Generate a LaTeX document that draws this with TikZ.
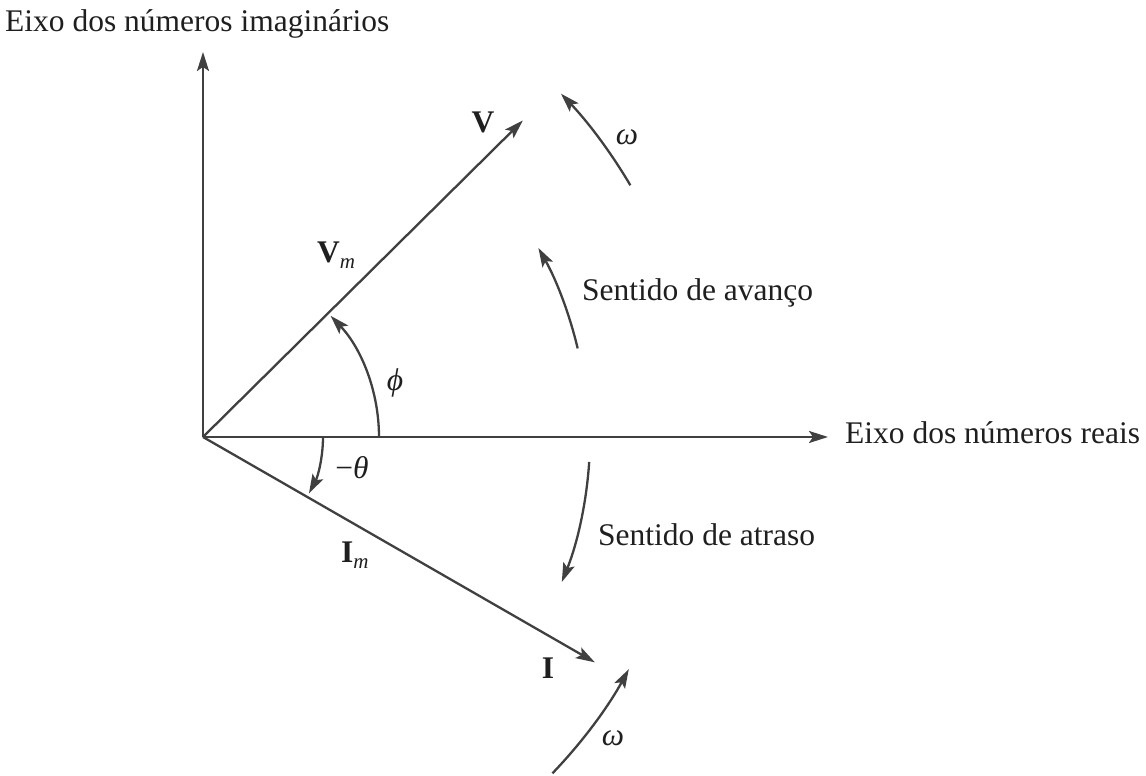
\documentclass[tikz,border=0pt]{standalone}
\usepackage{fontspec}
\setmainfont{Liberation Serif}
\usetikzlibrary{arrows.meta,calc}
\begin{document}
\begin{tikzpicture}[x=1pt,y=1pt,
  ln/.style={draw=black!75, line width=2.3pt},
  tip/.style={-{Stealth[length=19pt,width=12pt,inset=4pt]}},
  lbl/.style={inner sep=0pt, text=black!88, font=\fontsize{31.5}{31.5}\selectfont}]
\useasboundingbox (0,0) rectangle (1146,776);
\coordinate (O) at (203,339);
\coordinate (Y) at (203,724);
\coordinate (X) at (828,339);
\coordinate (V) at ($(O)+(44.7:450)$);
\coordinate (I) at ($(O)+(-29.9:452)$);
% axes and vectors
\draw[ln,tip] (O) -- (Y);
\draw[ln,tip] (O) -- (X);
\draw[ln,tip] (O) -- (V);
\draw[ln,tip] (O) -- (I);
% angle arcs
\draw[ln,tip] ($(O)+(0:176)$) arc[start angle=0, end angle=43.5, radius=176];
\draw[ln,tip] ($(O)+(0:120)$) arc[start angle=0, end angle=-28, radius=120];
% rotation arcs
\draw[ln,tip] ($(O)+(30.5:496)$) arc[start angle=30.5, end angle=43.8, radius=496];
\draw[ln,tip] ($(O)+(13.3:385)$) arc[start angle=13.3, end angle=29.4, radius=385];
\draw[ln,tip] ($(O)+(-3.7:387)$) arc[start angle=-3.7, end angle=-22, radius=387];
\draw[ln,tip] ($(O)+(-43.9:485)$) arc[start angle=-43.9, end angle=-28.6, radius=485];
% labels
\node[lbl, anchor=base west] (ly) at (5,744) {Eixo dos números imaginários};
\node[lbl, anchor=base west] (lx) at (845,332) {Eixo dos números reais};
\node[lbl] (lv) at (483,654) {\textbf{V}};
\node[lbl, anchor=base west] (lvm) at (317,513) {\textbf{V}{\fontsize{21}{21}\selectfont\raisebox{-6pt}{\textit{m}}}};
\node[lbl] (lphi) at (395,393) {\textit{ϕ}};
\node[lbl] (lth) at (352,308) {−\textit{θ}};
\node[lbl, anchor=base west] (lim) at (341,213) {\textbf{I}{\fontsize{21}{21}\selectfont\raisebox{-6pt}{\textit{m}}}};
\node[lbl] (li) at (548,108) {\textbf{I}};
\node[lbl, anchor=west] (lav) at (582,483) {Sentido de avanço};
\node[lbl, anchor=west] (lat) at (598,241) {Sentido de atraso};
\node[lbl] (lw1) at (627,639) {\textit{ω}};
\node[lbl] (lw2) at (613,38) {\textit{ω}};
\end{tikzpicture}
\end{document}
